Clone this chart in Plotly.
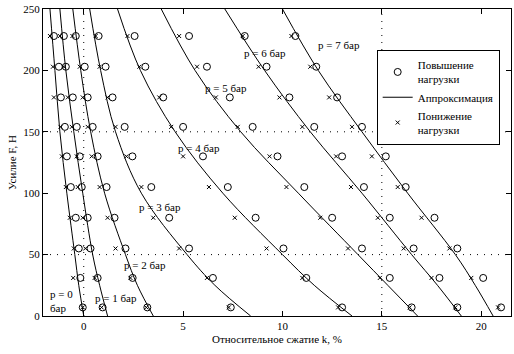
import plotly.graph_objects as go

# Force levels of the measured points (N)
F_pts = [7, 31, 55, 80, 105, 130, 154, 178, 203, 228]
pressures = ["p = 0", "p = 1", "p = 2", "p = 3", "p = 4", "p = 5", "p = 6", "p = 7"]

# Increasing load (circles), relative compression k, %
inc_p0 = [-0.05, -0.17, -0.25, -0.4, -0.65, -0.85, -0.95, -1.15, -1.25, -1.5]
inc_p1 = [0.95, 0.7, 0.34, 0.2, -0.1, -0.2, -0.35, -0.55, -0.9, -1.0]
inc_p2 = [3.2, 2.46, 2.1, 1.55, 1.15, 0.7, 0.45, 0.2, 0.05, -0.4]
inc_p3 = [7.4, 6.5, 5.3, 4.3, 3.4, 2.45, 2.06, 1.45, 1.1, 0.75]
inc_p4 = [13.0, 11.2, 10.05, 8.65, 7.25, 6.0, 5.0, 4.0, 3.1, 2.56]
inc_p5 = [16.5, 15.4, 14.0, 12.5, 11.1, 9.75, 8.5, 7.35, 6.2, 5.3]
inc_p6 = [18.8, 17.9, 16.6, 15.4, 14.1, 13.0, 11.6, 10.35, 9.2, 8.1]
inc_p7 = [21.0, 20.1, 18.8, 17.65, 16.2, 15.2, 14.0, 12.75, 11.7, 10.65]

# Decreasing load (x markers)
dec_p0 = [-0.05, -0.53, -0.5, -0.7, -0.9, -1.1, -1.17, -1.5, -1.55, -1.7]
dec_p1 = [0.9, 0.55, 0.08, -0.05, -0.3, -0.35, -0.6, -0.8, -1.0, -1.2]
dec_p2 = [3.15, 2.35, 1.6, 1.2, 0.8, 0.4, 0.2, -0.05, -0.2, -0.57]
dec_p3 = [7.3, 6.2, 4.8, 3.5, 2.9, 2.15, 1.6, 1.2, 0.8, 0.6]
dec_p4 = [12.8, 11.0, 9.2, 7.6, 6.3, 5.0, 4.4, 3.8, 2.8, 2.2]
dec_p5 = [16.4, 14.9, 13.3, 11.9, 10.2, 9.35, 7.75, 6.65, 5.7, 4.8]
dec_p6 = [18.7, 17.5, 16.1, 14.8, 13.45, 12.7, 11.0, 9.85, 8.8, 8.0]
dec_p7 = [20.85, 19.5, 18.4, 17.0, 15.8, 14.5, 13.5, 12.35, 11.4, 10.45]

# Approximation curves
F_fit = [0, 25, 50, 100, 150, 200, 250]
fit_p0 = [0.0, -0.25, -0.45, -0.85, -1.2, -1.45, -1.7]
fit_p1 = [1.2, 0.8, 0.45, -0.05, -0.5, -0.9, -1.2]
fit_p2 = [3.5, 2.7, 2.1, 1.05, 0.35, -0.15, -0.55]
fit_p3 = [8.4, 6.6, 5.2, 2.9, 1.6, 0.85, 0.3]
fit_p4 = [13.5, 11.6, 10.0, 7.0, 4.6, 2.85, 1.7]
fit_p5 = [16.8, 15.3, 13.8, 10.8, 7.9, 5.6, 3.9]
fit_p6 = [19.0, 17.8, 16.5, 14.0, 11.4, 9.1, 7.1]
fit_p7 = [20.6, 19.7, 18.7, 16.3, 14.0, 11.8, 10.0]

# Curve labels
label_text = ["p = 0<br>бар", "p = 1 бар", "p = 2 бар", "p = 3 бар",
              "p = 4 бар", "p = 5 бар", "p = 6 бар", "p = 7 бар"]
label_x = [-1.8, 0.45, 1.9, 2.7, 4.65, 6.0, 7.95, 11.7]
label_y = [12, 15, 41.5, 89, 137, 186, 214, 221]

x_ticks = [0, 5, 10, 15, 20]
y_ticks = [0, 50, 100, 150, 200, 250]
grid_x = [0, 15]
grid_y = [50, 150]

inc_all = [inc_p0, inc_p1, inc_p2, inc_p3, inc_p4, inc_p5, inc_p6, inc_p7]
dec_all = [dec_p0, dec_p1, dec_p2, dec_p3, dec_p4, dec_p5, dec_p6, dec_p7]
fit_all = [fit_p0, fit_p1, fit_p2, fit_p3, fit_p4, fit_p5, fit_p6, fit_p7]

FONT = "Liberation Serif"
fig = go.Figure()

for i, fx in enumerate(fit_all):
    fig.add_trace(go.Scatter(
        x=fx, y=F_fit, mode="lines", line=dict(color="black", width=1, shape="spline"),
        name="Аппроксимация", legendgroup="fit", showlegend=(i == 0), legendrank=2,
        hoverinfo="skip"))

inc_x = [v for arr in inc_all for v in arr]
inc_y = [f for arr in inc_all for f in F_pts]
dec_x = [v for arr in dec_all for v in arr]
dec_y = [f for arr in dec_all for f in F_pts]

fig.add_trace(go.Scatter(
    x=dec_x, y=dec_y, mode="markers", name="Понижение<br>нагрузки",
    marker=dict(symbol="x-thin", size=4, line=dict(color="black", width=1), color="black"),
    legendrank=3))
fig.add_trace(go.Scatter(
    x=inc_x, y=inc_y, mode="markers", name="Повышение<br>нагрузки",
    marker=dict(symbol="circle-open", size=7, color="black", line=dict(width=1)),
    legendrank=1))

for t, lx, ly in zip(label_text, label_x, label_y):
    fig.add_annotation(x=lx, y=ly, text=t, showarrow=False, xanchor="left",
                       yanchor="middle", align="left",
                       font=dict(family=FONT, size=11, color="black"))

for gx in grid_x:
    fig.add_shape(type="line", xref="x", yref="paper", x0=gx, x1=gx, y0=0, y1=1,
                  line=dict(color="black", width=1, dash="1px,6px"), layer="below")
for gy in grid_y:
    fig.add_shape(type="line", xref="paper", yref="y", x0=0, x1=1, y0=gy, y1=gy,
                  line=dict(color="black", width=1, dash="1px,6px"), layer="below")

axis_common = dict(showgrid=False, zeroline=False, showline=True, linecolor="black",
                   linewidth=1, mirror="allticks", ticks="inside", ticklen=5,
                   tickcolor="black", automargin=False,
                   tickfont=dict(family=FONT, size=11, color="black"))

fig.update_layout(
    width=514, height=354,
    margin=dict(l=43, r=3, t=9, b=38),
    paper_bgcolor="white", plot_bgcolor="white",
    font=dict(family=FONT, size=11, color="black"),
    xaxis=dict(range=[-2.05, 21.5], tickvals=x_ticks,
               title=dict(text="Относительное сжатие k, %", font=dict(family=FONT, size=11), standoff=4),
               **axis_common),
    yaxis=dict(range=[0, 250], tickvals=y_ticks,
               title=dict(text="Усилие F, Н", font=dict(family=FONT, size=11), standoff=4),
               **axis_common),
    legend=dict(x=0.713, y=0.866, xanchor="left", yanchor="top",
                bgcolor="white", bordercolor="black", borderwidth=1,
                font=dict(family=FONT, size=11, color="black"),
                itemwidth=30, tracegroupgap=0),
    showlegend=True,
)

fig.write_html("out.html", config={"displayModeBar": False},
               post_script="document.body.style.margin='0';document.body.style.overflow='hidden';")
